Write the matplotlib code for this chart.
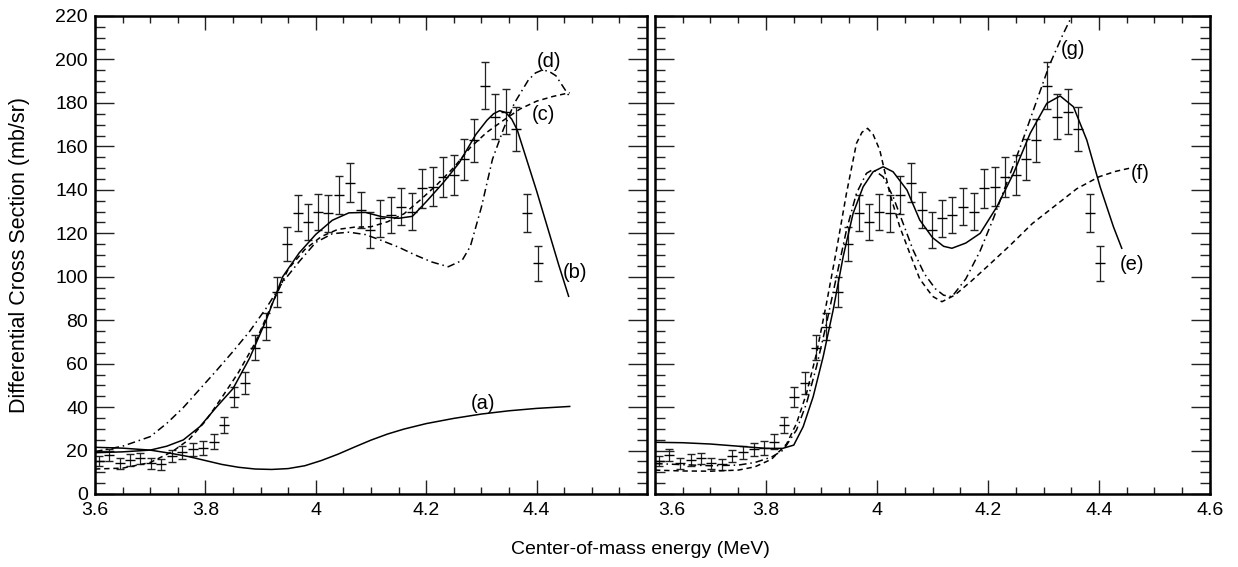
import numpy as np
import matplotlib
matplotlib.use("Agg")
import matplotlib.pyplot as plt
from matplotlib.ticker import MultipleLocator

plt.rcParams['font.family'] = ['Liberation Sans', 'DejaVu Sans']

# measured cross section (same set in both panels)
energy = [3.608, 3.626, 3.645, 3.664, 3.682, 3.701, 3.720, 3.739, 3.758, 3.778,
          3.796, 3.815, 3.833, 3.851, 3.871, 3.890, 3.909, 3.929, 3.947, 3.967,
          3.985, 4.004, 4.023, 4.042, 4.062, 4.081, 4.099, 4.117, 4.136, 4.155,
          4.175, 4.193, 4.212, 4.230, 4.250, 4.269, 4.287, 4.306, 4.324, 4.344,
          4.362, 4.383, 4.402]
xsec = [15.2, 17.9, 14.1, 15.6, 16.4, 14.1, 13.7, 17.6, 19.2, 20.6,
        21.3, 24.1, 31.8, 44.8, 51.2, 67.3, 77.0, 93.1, 114.9, 129.2,
        125.3, 129.9, 129.2, 137.5, 143.3, 130.7, 121.5, 126.9, 128.4, 132.2,
        129.9, 140.7, 141.4, 146.0, 146.8, 154.0, 162.9, 187.8, 173.6, 175.9,
        167.8, 129.5, 106.2]
xsec_err = [2.5, 2.8, 2.5, 2.6, 2.7, 2.5, 2.5, 2.8, 3.0, 3.1,
            3.2, 3.4, 3.8, 4.6, 5.0, 5.8, 6.3, 7.0, 7.8, 8.3,
            8.2, 8.4, 8.4, 8.7, 9.0, 8.5, 8.2, 8.4, 8.5, 8.6,
            8.5, 8.9, 9.0, 9.2, 9.2, 9.6, 9.9, 10.8, 10.3, 10.4,
            10.1, 8.8, 8.0]

# left panel fits
a_x = [3.60, 3.65, 3.70, 3.74, 3.77, 3.80, 3.83, 3.86, 3.89, 3.92, 3.95, 3.98,
       4.01, 4.04, 4.07, 4.10, 4.13, 4.16, 4.20, 4.25, 4.30, 4.35, 4.40, 4.46]
a_y = [21.5, 21.1, 20.2, 18.6, 17.2, 15.4, 13.6, 12.3, 11.5, 11.3, 11.7, 13.0,
       15.4, 18.3, 21.6, 24.8, 27.6, 29.9, 32.4, 34.8, 36.8, 38.3, 39.4, 40.3]

b_x = [3.60, 3.65, 3.70, 3.73, 3.76, 3.79, 3.82, 3.85, 3.88, 3.91, 3.94, 3.97,
       4.00, 4.03, 4.06, 4.09, 4.12, 4.15, 4.175, 4.20, 4.23, 4.26, 4.29, 4.31,
       4.322, 4.333, 4.344, 4.355, 4.365, 4.38, 4.40, 4.42, 4.44, 4.458]
b_y = [19.0, 19.4, 20.2, 22.0, 24.9, 31.0, 40.0, 48.5, 62.5, 80.0, 100.0, 111.0,
       119.5, 126.0, 129.4, 129.6, 127.6, 126.9, 127.8, 134.5, 143.0, 152.5, 165.5, 172.0,
       175.0, 176.4, 175.6, 172.5, 167.5, 155.5, 139.5, 122.5, 105.5, 91.0]

c_x = [3.60, 3.65, 3.70, 3.74, 3.77, 3.80, 3.83, 3.86, 3.89, 3.92, 3.95, 3.98,
       4.01, 4.04, 4.07, 4.10, 4.13, 4.16, 4.19, 4.22, 4.25, 4.28, 4.31, 4.34,
       4.37, 4.40, 4.43, 4.46]
c_y = [11.5, 11.9, 14.5, 19.5, 25.0, 33.5, 44.5, 56.0, 69.5, 87.0, 103.5, 112.5,
       118.5, 121.8, 122.8, 123.0, 125.3, 129.0, 135.5, 142.5, 150.3, 159.5, 166.5, 172.0,
       177.2, 180.8, 183.0, 184.7]

d_x = [3.60, 3.65, 3.70, 3.73, 3.76, 3.79, 3.82, 3.85, 3.88, 3.91, 3.94, 3.97,
       4.00, 4.03, 4.06, 4.09, 4.12, 4.15, 4.18, 4.21, 4.24, 4.265, 4.28, 4.30,
       4.32, 4.34, 4.36, 4.385, 4.398, 4.41, 4.422, 4.435, 4.46]
d_y = [19.5, 22.0, 26.4, 32.5, 39.8, 48.3, 56.8, 65.6, 74.8, 85.5, 97.5, 107.0,
       115.8, 119.8, 120.5, 119.4, 116.6, 113.6, 110.0, 106.8, 104.6, 107.5, 114.0, 132.0,
       154.0, 168.0, 180.0, 190.5, 193.8, 195.1, 194.6, 192.5, 182.8]

# right panel fits
e_x = [3.60, 3.65, 3.70, 3.75, 3.80, 3.83, 3.85, 3.867, 3.885, 3.903, 3.921, 3.939,
       3.957, 3.975, 3.993, 4.011, 4.029, 4.054, 4.077, 4.10, 4.12, 4.135, 4.16, 4.186,
       4.216, 4.246, 4.276, 4.306, 4.33, 4.354, 4.378, 4.402, 4.426, 4.441]
e_y = [23.8, 23.6, 23.0, 22.0, 21.0, 21.0, 22.5, 31.0, 44.8, 63.2, 84.7, 109.2,
       129.2, 141.4, 148.3, 150.6, 148.3, 139.9, 126.1, 118.0, 114.0, 113.1, 115.5, 120.0,
       132.2, 147.6, 166.0, 179.8, 183.2, 178.2, 162.9, 141.4, 123.0, 113.1]

f_x = [3.60, 3.65, 3.70, 3.75, 3.78, 3.81, 3.837, 3.855, 3.873, 3.891, 3.909, 3.927,
       3.945, 3.963, 3.973, 3.983, 3.993, 4.005, 4.023, 4.041, 4.059, 4.077, 4.10, 4.117,
       4.14, 4.17, 4.20, 4.24, 4.28, 4.32, 4.36, 4.40, 4.43, 4.456]
f_y = [11.0, 10.6, 10.5, 11.0, 12.5, 16.0, 23.0, 32.5, 46.3, 64.7, 87.8, 112.3,
       138.4, 161.4, 166.5, 168.3, 165.5, 158.3, 138.4, 123.0, 110.8, 99.0, 91.0, 88.5,
       91.5, 98.0, 105.0, 114.5, 124.5, 132.5, 140.5, 146.0, 148.5, 150.0]

g_x = [3.60, 3.65, 3.70, 3.75, 3.78, 3.81, 3.831, 3.855, 3.873, 3.891, 3.909, 3.927,
       3.945, 3.963, 3.981, 3.993, 4.011, 4.029, 4.047, 4.065, 4.085, 4.105, 4.12, 4.135,
       4.16, 4.186, 4.21, 4.235, 4.26, 4.285, 4.31, 4.335, 4.355]
g_y = [14.0, 13.5, 13.0, 13.3, 14.5, 17.0, 20.2, 29.5, 41.7, 58.6, 78.5, 100.0,
       121.5, 138.4, 147.6, 149.4, 146.0, 136.8, 124.6, 112.3, 101.5, 94.5, 91.5, 90.8,
       99.0, 112.0, 127.0, 144.0, 161.0, 179.0, 197.0, 211.5, 222.0]

x_ticks = [3.6, 3.8, 4.0, 4.2, 4.4, 4.6]
left_labels = ['3.6', '3.8', '4', '4.2', '4.4', '']
right_labels = ['', '3.8', '4', '4.2', '4.4', '4.6']

DASH = (0, (3.5, 2.5))
DASHDOT = (0, (5, 2.5, 1, 2.5))
FS = 14

fig = plt.figure(figsize=(12.38, 5.67), dpi=100)
ax1 = fig.add_axes([95 / 1238, 1 - 494 / 567, 552 / 1238, 478 / 567])
ax2 = fig.add_axes([655 / 1238, 1 - 494 / 567, 555 / 1238, 478 / 567])


def style(ax, labels):
    ax.set_xlim(3.6, 4.6)
    ax.set_ylim(0, 220)
    ax.set_xticks(x_ticks)
    ax.set_xticklabels(labels)
    ax.xaxis.set_minor_locator(MultipleLocator(0.05))
    ax.yaxis.set_major_locator(MultipleLocator(20))
    ax.yaxis.set_minor_locator(MultipleLocator(5))
    ax.tick_params(which='both', direction='in', top=True, right=True,
                   labelsize=FS, color='#222222', width=1.0)
    ax.tick_params(axis='x', which='major', length=10, pad=6)
    ax.tick_params(axis='x', which='minor', length=5)
    ax.tick_params(axis='y', which='major', length=13.5, pad=5)
    ax.tick_params(axis='y', which='minor', length=7)
    for sp in ax.spines.values():
        sp.set_linewidth(1.8)
    ax.errorbar(energy, xsec, yerr=xsec_err, fmt='_', ms=7, mew=1.0,
                color='black', ecolor='#222222', elinewidth=0.9,
                capsize=2.6, capthick=0.9)


style(ax1, left_labels)
style(ax2, right_labels)
ax2.tick_params(axis='y', labelleft=False)

lw = 1.1
ax1.plot(a_x, a_y, color='black', lw=lw)
ax1.plot(b_x, b_y, color='black', lw=lw)
ax1.plot(c_x, c_y, color='black', lw=lw, linestyle=DASH)
ax1.plot(d_x, d_y, color='black', lw=lw, linestyle=DASHDOT)

ax2.plot(e_x, e_y, color='black', lw=lw)
ax2.plot(f_x, f_y, color='black', lw=lw, linestyle=DASH)
ax2.plot(g_x, g_y, color='black', lw=lw, linestyle=DASHDOT)

lab = dict(fontsize=14.5, ha='center', va='center')
ax1.text(4.303, 41.5, '(a)', **lab)
ax1.text(4.470, 102.0, '(b)', **lab)
ax1.text(4.412, 174.5, '(c)', **lab)
ax1.text(4.422, 199.0, '(d)', **lab)
ax2.text(4.459, 105.5, '(e)', **lab)
ax2.text(4.474, 147.5, '(f)', **lab)
ax2.text(4.354, 204.5, '(g)', **lab)

# first label of the right panel sits a bit to the right of its tick
ax2.annotate('3.6', xy=(0, 0), xycoords='axes fraction', xytext=(12, -6),
             textcoords='offset points', ha='center', va='top', fontsize=FS)

fig.text(20 / 1238, 1 - 255 / 567, 'Differential Cross Section (mb/sr)',
         rotation=90, ha='center', va='center', fontsize=15.5)
fig.text(640 / 1238, 1 - 550 / 567, 'Center-of-mass energy (MeV)',
         ha='center', va='center', fontsize=14)

fig.savefig('out.png', dpi=100)
